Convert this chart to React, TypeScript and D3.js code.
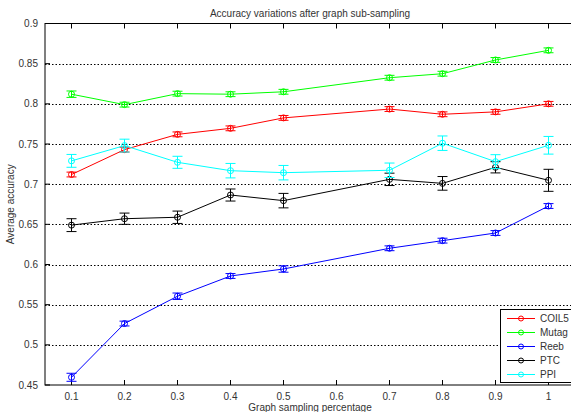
import React from "react";
import * as d3 from "d3";

const xValues = [0.1, 0.2, 0.3, 0.4, 0.5, 0.7, 0.8, 0.9, 1.0];
const xTicks = [0.1, 0.2, 0.3, 0.4, 0.5, 0.6, 0.7, 0.8, 0.9, 1];
const yTicks = [0.45, 0.5, 0.55, 0.6, 0.65, 0.7, 0.75, 0.8, 0.85, 0.9];

const seriesNames = ["COIL5", "Mutag", "Reeb", "PTC", "PPI"];
const seriesColors = ["#ff0000", "#00ff00", "#0000ff", "#000000", "#00ffff"];

const coil5 = [0.712, 0.743, 0.762, 0.7695, 0.7825, 0.7935, 0.787, 0.790, 0.800];
const coil5Err = [0.003, 0.003, 0.003, 0.003, 0.003, 0.003, 0.003, 0.003, 0.003];
const mutag = [0.812, 0.799, 0.8127, 0.812, 0.815, 0.8325, 0.8375, 0.8546, 0.8666];
const mutagErr = [0.004, 0.003, 0.003, 0.003, 0.003, 0.003, 0.003, 0.003, 0.003];
const reeb = [0.4596, 0.5265, 0.5605, 0.5857, 0.5944, 0.6202, 0.6297, 0.6392, 0.6728];
const reebErr = [0.005, 0.003, 0.004, 0.003, 0.004, 0.003, 0.003, 0.003, 0.003];
const ptc = [0.649, 0.657, 0.6588, 0.6865, 0.6795, 0.706, 0.701, 0.721, 0.7048];
const ptcErr = [0.008, 0.007, 0.0077, 0.0075, 0.009, 0.0077, 0.0085, 0.007, 0.0137];
const ppi = [0.729, 0.748, 0.7272, 0.7168, 0.7143, 0.7173, 0.751, 0.728, 0.7484];
const ppiErr = [0.008, 0.008, 0.0075, 0.009, 0.009, 0.009, 0.009, 0.0087, 0.011];

const seriesValues = [coil5, mutag, reeb, ptc, ppi];
const seriesErrors = [coil5Err, mutagErr, reebErr, ptcErr, ppiErr];

const title = "Accuracy variations after graph sub-sampling";
const xLabel = "Graph sampling percentage";
const yLabel = "Average accuracy";

export default function App() {
  const W = 571;
  const H = 412;
  const left = 45;
  const right = 575;
  const top = 23.5;
  const bottom = 385;
  const x = d3.scaleLinear().domain([0.05, 1.05]).range([left, right]);
  const y = d3.scaleLinear().domain([0.45, 0.9]).range([bottom, top]);
  const line = d3
    .line<number>()
    .x((_, i) => x(xValues[i]))
    .y((d) => y(d));
  const font = "'Liberation Sans', Arial, Helvetica, sans-serif";
  const textColor = "#333";

  return (
    <svg
      width={W}
      height={H}
      style={{ position: "absolute", left: 0, top: 0, background: "#fff" }}
      fontFamily={font}
    >
      <rect x={0} y={0} width={W} height={H} fill="#fff" />
      {yTicks.slice(1, -1).map((t) => (
        <line
          key={"g" + t}
          x1={left}
          x2={right}
          y1={Math.round(y(t)) + 0.5}
          y2={Math.round(y(t)) + 0.5}
          stroke="#000"
          strokeWidth={1}
          strokeDasharray="1.5,2"
        />
      ))}
      <rect
        x={left}
        y={top}
        width={right - left}
        height={bottom - top}
        fill="none"
        stroke="#000"
        strokeWidth={1}
      />
      {xTicks.map((t) => (
        <g key={"x" + t}>
          <line x1={x(t)} x2={x(t)} y1={bottom} y2={bottom - 5} stroke="#000" />
          <line x1={x(t)} x2={x(t)} y1={top} y2={top + 5} stroke="#000" />
          <text
            x={x(t)}
            y={bottom + 15}
            textAnchor="middle"
            fontSize={10}
            fill={textColor}
          >
            {String(t)}
          </text>
        </g>
      ))}
      {yTicks.map((t) => (
        <g key={"y" + t}>
          <line x1={left} x2={left + 5} y1={y(t)} y2={y(t)} stroke="#000" />
          <text
            x={left - 7}
            y={y(t) + 3.5}
            textAnchor="end"
            fontSize={10}
            fill={textColor}
          >
            {String(t)}
          </text>
        </g>
      ))}
      <text x={(left + right) / 2} y={17} textAnchor="middle" fontSize={10} fill={textColor}>
        {title}
      </text>
      <text x={(left + right) / 2} y={410.5} textAnchor="middle" fontSize={10} fill={textColor}>
        {xLabel}
      </text>
      <text
        transform={`translate(14, ${(top + bottom) / 2}) rotate(-90)`}
        textAnchor="middle"
        fontSize={10}
        fill={textColor}
      >
        {yLabel}
      </text>
      {seriesValues.map((vals, s) => (
        <g key={"s" + s}>
          <path d={line(vals) || ""} fill="none" stroke={seriesColors[s]} strokeWidth={1} />
          {vals.map((v, i) => {
            const cx = x(xValues[i]);
            const e = seriesErrors[s][i];
            return (
              <g key={i} stroke={seriesColors[s]} strokeWidth={1} fill="none">
                <line x1={cx} x2={cx} y1={y(v - e)} y2={y(v + e)} />
                <line x1={cx - 5} x2={cx + 5} y1={y(v - e)} y2={y(v - e)} />
                <line x1={cx - 5} x2={cx + 5} y1={y(v + e)} y2={y(v + e)} />
                <circle cx={cx} cy={y(v)} r={3} />
              </g>
            );
          })}
        </g>
      ))}
      <rect x={500.5} y={309.5} width={80} height={73} fill="#fff" stroke="#000" strokeWidth={1} />
      {seriesNames.map((n, s) => {
        const ly = 318.5 + s * 14;
        return (
          <g key={"l" + n}>
            <line x1={507} x2={535} y1={ly} y2={ly} stroke={seriesColors[s]} />
            <circle cx={521} cy={ly} r={2.5} fill="none" stroke={seriesColors[s]} />
            <text x={540} y={ly + 3.5} fontSize={10} fill={textColor}>
              {n}
            </text>
          </g>
        );
      })}
    </svg>
  );
}
